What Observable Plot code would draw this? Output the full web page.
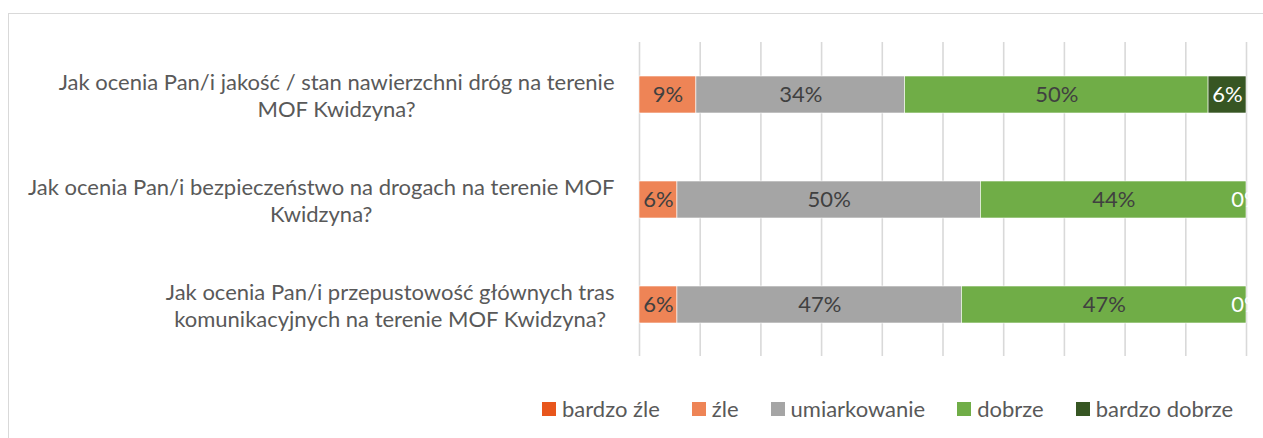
<!DOCTYPE html>
<html>
<head>
<meta charset="utf-8">
<script src="https://cdn.jsdelivr.net/npm/d3@7"></script>
<script src="https://cdn.jsdelivr.net/npm/@observablehq/plot@0.6"></script>
<style>
  html, body { margin: 0; padding: 0; background: #fff; overflow: hidden; }
  body { width: 1263px; height: 438px; position: relative; font-family: Lato, "Open Sans", sans-serif; }
  #frame { position: absolute; left: 8px; top: 13px; width: 1400px; height: 600px; border: 1px solid #d9d9d9; box-sizing: border-box; }
  #chart { position: absolute; left: 0; top: 0; }
  #legend { position: absolute; top: 395px; left: 542px; display: flex; align-items: center; font-size: 22px; color: #595959; white-space: nowrap; }
  #legend .item { display: flex; align-items: center; margin-right: 32px; }
  #legend .sw { width: 14px; height: 14px; margin-right: 6px; display: inline-block; }
</style>
</head>
<body>
<div id="frame"></div>
<div id="chart"></div>
<div id="legend"></div>
<script>
// ---- data ----
const questions = [
  "Jak ocenia Pan/i jakość / stan nawierzchni dróg na terenie\nMOF Kwidzyna?",
  "Jak ocenia Pan/i bezpieczeństwo na drogach na terenie MOF\nKwidzyna?",
  "Jak ocenia Pan/i przepustowość głównych tras\nkomunikacyjnych na terenie MOF Kwidzyna?"
];
const ratings = ["bardzo źle", "źle", "umiarkowanie", "dobrze", "bardzo dobrze"];
const bardzoZle    = [0, 0, 0];
const zle          = [9.375, 6.25, 6.25];
const umiarkowanie = [34.375, 50, 46.875];
const dobrze       = [50, 43.75, 46.875];
const bardzoDobrze = [6.25, 0, 0];
const gridTicks = [0, 10, 20, 30, 40, 50, 60, 70, 80, 90, 100];
const ratingColors = ["#E8561C", "#EE8456", "#A5A5A5", "#70AD47", "#375623"];

const series = [bardzoZle, zle, umiarkowanie, dobrze, bardzoDobrze];
const rows = [];
questions.forEach((q, i) => {
  ratings.forEach((r, j) => rows.push({q, r, v: series[j][i]}));
});

const fmt = d => Math.round(d.v) + "%";

const plot = Plot.plot({
  width: 1263,
  height: 370,
  marginLeft: 639,
  marginRight: 17,
  marginTop: 42,
  marginBottom: 14,
  style: {fontFamily: "Lato, 'Open Sans', sans-serif", background: "transparent"},
  x: {domain: [0, 100], axis: null},
  y: {domain: questions, paddingInner: 0.648, paddingOuter: 0.319, align: 0.5, label: null},
  color: {domain: ratings, range: ratingColors},
  marks: [
    Plot.gridX(gridTicks, {stroke: "#d9d9d9", strokeOpacity: 1, strokeWidth: 1.6}),
    Plot.barX(rows, Plot.stackX({x: "v", y: "q", fill: "r", order: ratings, stroke: "white", strokeWidth: 0.6})),
    Plot.text(rows, Plot.stackX({x: "v", y: "q", z: "r", order: ratings,
      text: d => (d.r === "bardzo źle" || d.r === "bardzo dobrze") ? null : fmt(d),
      fill: "#404040", fontSize: 22})),
    Plot.text(rows, Plot.stackX({x: "v", y: "q", z: "r", order: ratings,
      text: d => d.r === "bardzo dobrze" ? fmt(d) : null,
      fill: "white", fontSize: 22})),
    Plot.axisY({tickSize: 0, tickPadding: 25, fontSize: 22, fill: "#595959", lineHeight: 1.2, label: null})
  ]
});
document.getElementById("chart").appendChild(plot);

// center the lines of each multi-line question label within its block (right edge kept)
d3.select(plot).selectAll('g[aria-label="y-axis tick label"] text').each(function() {
  const bb = this.getBBox();
  const c = bb.x + bb.width / 2;
  this.setAttribute("text-anchor", "middle");
  d3.select(this).selectAll("tspan").attr("x", c).attr("text-anchor", "middle");
});
d3.select(plot).selectAll('g[aria-label="y-axis tick label"]').attr("text-anchor", "middle");

// legend
const legend = d3.select("#legend");
ratings.forEach((r, i) => {
  const it = legend.append("div").attr("class", "item");
  it.append("span").attr("class", "sw").style("background", ratingColors[i]);
  it.append("span").text(r);
});
</script>
</body>
</html>
